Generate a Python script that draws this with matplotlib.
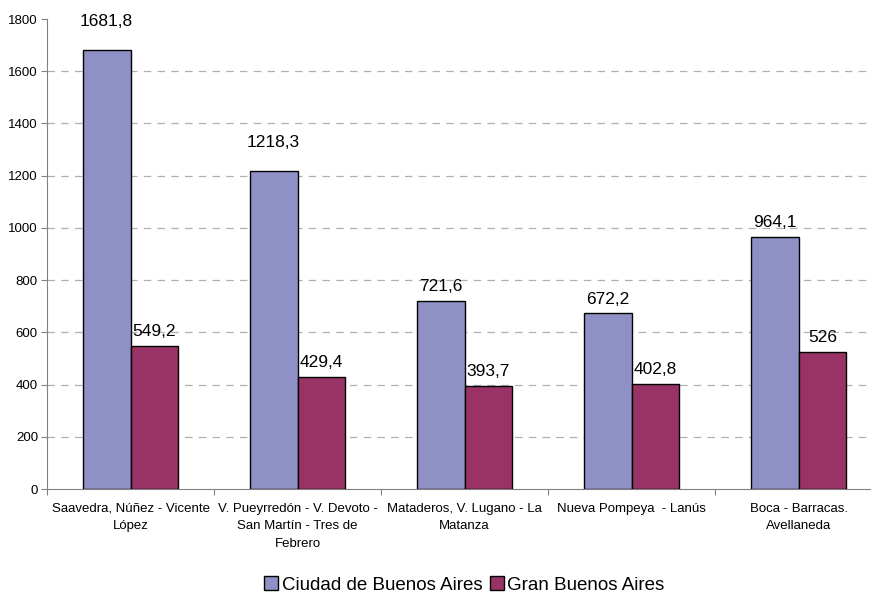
import numpy as np
import matplotlib.pyplot as plt

plt.rcParams['font.family'] = ['Liberation Sans', 'DejaVu Sans']

categories = [
    "Saavedra, Núñez - Vicente\nLópez",
    "V. Pueyrredón - V. Devoto -\nSan Martín - Tres de\nFebrero",
    "Mataderos, V. Lugano - La\nMatanza",
    "Nueva Pompeya  - Lanús",
    "Boca - Barracas.\nAvellaneda",
]
ciudad = [1681.8, 1218.3, 721.6, 672.2, 964.1]
gran = [549.2, 429.4, 393.7, 402.8, 526]
series_names = ["Ciudad de Buenos Aires", "Gran Buenos Aires"]

# extra lift for some labels (points), as in the original
lift_ciudad = [10, 10, 0, 0, 0]

fmt = lambda v: (f"{v:g}").replace(".", ",")

fig = plt.figure(figsize=(8.71, 5.93), dpi=100)
ax = fig.add_axes([47 / 871, 104 / 593, 1 - 47 / 871, 470 / 593])

x = np.arange(len(categories))
w = 0.287
b1 = ax.bar(x - w / 2, ciudad, w, color='#8f90c5', edgecolor='black', linewidth=1, label=series_names[0], zorder=3)
b2 = ax.bar(x + w / 2, gran, w, color='#993366', edgecolor='black', linewidth=1, label=series_names[1], zorder=3)

for rect, v, lift in zip(b1, ciudad, lift_ciudad):
    ax.annotate(fmt(v), (rect.get_x() + rect.get_width() / 2, v), xytext=(0, 5 + lift),
                textcoords='offset points', ha='center', va='bottom', fontsize=12.5)
for rect, v in zip(b2, gran):
    ax.annotate(fmt(v), (rect.get_x() + rect.get_width() / 2, v), xytext=(0, 5),
                textcoords='offset points', ha='center', va='bottom', fontsize=12.5)

ax.set_ylim(0, 1800)
ax.set_xlim(-0.5, 4.5 - 11 / 167)
ax.set_yticks(range(0, 1801, 200))
ax.tick_params(axis='y', labelsize=9.5, length=4, color='#808080', pad=2.5)
ax.yaxis.grid(True, linestyle=(0, (6, 5)), color='#b0b0b0', linewidth=0.9, zorder=0)
gl = ax.yaxis.get_gridlines()
gl[0].set_visible(False)
gl[-1].set_visible(False)

ax.set_xticks(np.arange(-0.5, 4.5, 1.0))
ax.set_xticklabels([])
ax.set_xticks(x, minor=True)
ax.set_xticklabels(categories, minor=True, fontsize=9.5, linespacing=1.6)
ax.tick_params(axis='x', which='major', length=4, color='#808080', direction='out')
ax.tick_params(axis='x', which='minor', length=0, pad=10)

for s in ['top', 'right']:
    ax.spines[s].set_visible(False)
for s in ['left', 'bottom']:
    ax.spines[s].set_color('#808080')

fig.legend(handles=[b1, b2], labels=series_names, loc='center', bbox_to_anchor=(0.533, 8 / 593),
           ncol=2, frameon=False, fontsize=13.5, handlelength=0.75, handleheight=0.75,
           handletextpad=0.2, columnspacing=0.4, borderaxespad=0, borderpad=0)

fig.savefig('out.png', dpi=100)
